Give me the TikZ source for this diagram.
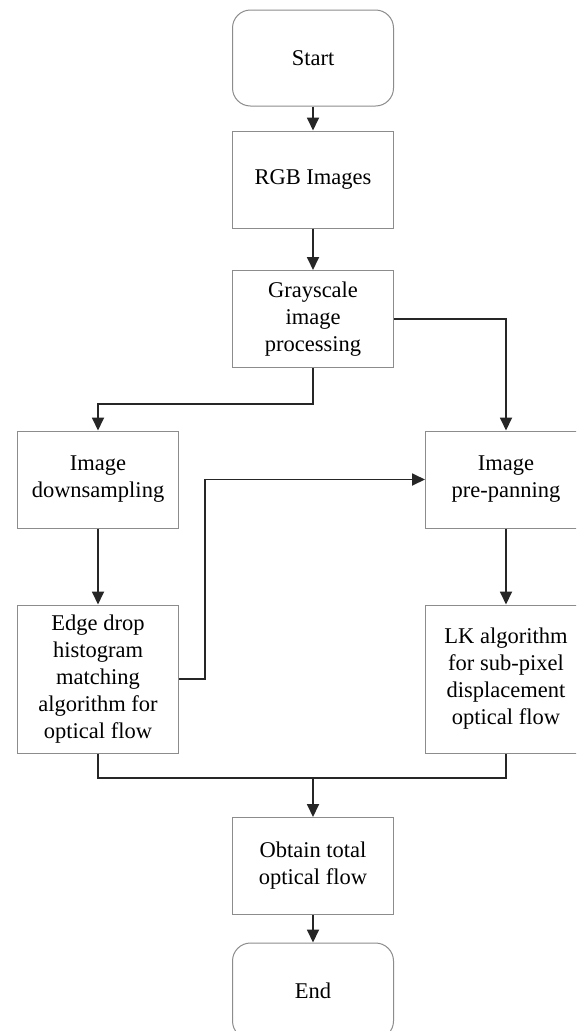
\documentclass[tikz,border=0pt]{standalone}
\usepackage{fontspec}
\setmainfont{Liberation Serif}
\usetikzlibrary{arrows.meta}
\begin{document}
\begin{tikzpicture}[x=1pt,y=-1pt,
  box/.style={draw=black!45, line width=1pt, fill=white, align=center,
    minimum width=161pt, minimum height=97pt, inner sep=0pt,
    font=\fontsize{22.5}{27}\selectfont},
  terminal/.style={box, rounded corners=18pt, minimum height=96pt},
  flow/.style={draw=black!85, line width=1.8pt},
  arr/.style={flow, -{Triangle[length=13pt,width=12pt]}}]
\useasboundingbox (0,0) rectangle (576,1031);
\clip (0,0) rectangle (576,1031);
\fill[white] (0,0) rectangle (576,1031);

\node[terminal] (start) at (313,58) {Start};
\node[box] (rgb) at (313,179.5) {RGB Images};
\node[box] (gray) at (313,319) {Grayscale\\image\\processing};
\node[box] (down) at (98,479.5) {Image\\downsampling};
\node[box] (pre) at (506,479.5) {Image\\pre-panning};
\node[box, minimum height=148pt] (edge) at (98,679) {Edge drop\\histogram\\matching\\algorithm for\\optical flow};
\node[box, minimum height=148pt] (lk) at (506,679) {LK algorithm\\for sub-pixel\\displacement\\optical flow};
\node[box] (obtain) at (313,866) {Obtain total\\optical flow};
\node[terminal] (end) at (313,991) {End};

\coordinate (split) at (313,404);
\coordinate (bend) at (205,679);
\coordinate (merge) at (313,777.7);

\draw[arr] (start) -- (rgb);
\draw[arr] (rgb) -- (gray);
\draw[arr] (gray.south) -- (split) -| (down.north);
\draw[arr] (gray.east) -| (pre.north);
\draw[arr] (down) -- (edge);
\draw[arr] (pre) -- (lk);
\draw[arr] (edge.east) -- (bend) |- (pre.west);
\draw[flow] (edge.south) |- (merge) -| (lk.south);
\draw[arr] (merge) -- (obtain.north);
\draw[arr] (obtain) -- (end);
\end{tikzpicture}
\end{document}
